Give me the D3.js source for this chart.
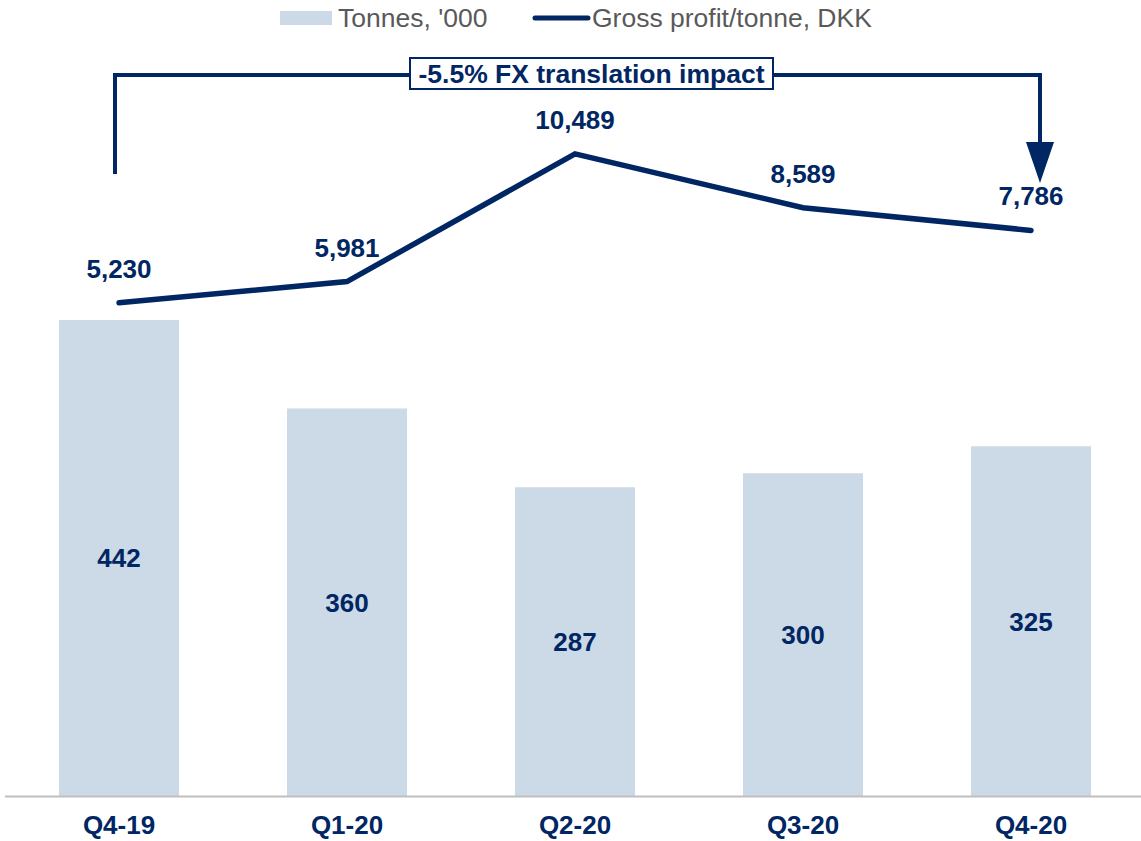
<!DOCTYPE html>
<html>
<head>
<meta charset="utf-8">
<script src="https://cdn.jsdelivr.net/npm/d3@7"></script>
<style>
  body { margin: 0; background: #fff; }
  text { font-family: "Liberation Sans", Arial, sans-serif; }
</style>
</head>
<body>
<div id="chart"></div>
<script>
// chart data
var quarters = ["Q4-19", "Q1-20", "Q2-20", "Q3-20", "Q4-20"];
var tonnes = [442, 360, 287, 300, 325];
var grossProfit = [5230, 5981, 10489, 8589, 7786];
var fxLabel = "-5.5% FX translation impact";

var svgWidth = 1141;
var svgHeight = 841;
var navy = "#002663";
var barColor = "#ccd9e6";

var svg = d3.select("#chart")
  .append("svg")
  .attr("width", svgWidth)
  .attr("height", svgHeight);

// x: one band per quarter
var xScale = d3.scaleBand()
  .domain(quarters)
  .range([5, 1145])
  .paddingInner(108 / 228)
  .paddingOuter(54 / 228);

// bars on their own axis
var yBar = d3.scaleLinear()
  .domain([0, 500])
  .range([797, 797 - 500 * 1.0792]);

// line on a secondary axis
var yLine = d3.scaleLinear()
  .domain([0, 12000])
  .range([451, 451 - 12000 * 0.02833]);

var data = quarters.map(function(q, i) {
  return { q: q, t: tonnes[i], gp: grossProfit[i] };
});

// bars
svg.selectAll("rect.bar")
  .data(data)
  .enter()
  .append("rect")
  .attr("class", "bar")
  .attr("x", d => xScale(d.q))
  .attr("y", d => yBar(d.t))
  .attr("width", xScale.bandwidth())
  .attr("height", d => yBar(0) - yBar(d.t))
  .attr("fill", barColor);

// bar labels
svg.selectAll("text.barlabel")
  .data(data)
  .enter()
  .append("text")
  .attr("class", "barlabel")
  .attr("x", d => xScale(d.q) + xScale.bandwidth() / 2)
  .attr("y", d => (yBar(d.t) + yBar(0)) / 2 + 9)
  .attr("text-anchor", "middle")
  .style("font-size", "26px")
  .style("font-weight", "bold")
  .attr("fill", navy)
  .text(d => d.t);

// x axis
var xAxis = svg.append("g")
  .attr("transform", "translate(0, 797)")
  .call(d3.axisBottom(xScale).tickSize(0).tickPadding(0));
xAxis.select(".domain").remove();
xAxis.append("line")
  .attr("x1", 5).attr("x2", 1141)
  .attr("y1", -0.5).attr("y2", -0.5)
  .attr("stroke", "#bfbfbf")
  .attr("stroke-width", 2);
xAxis.selectAll(".tick text")
  .attr("dy", null)
  .attr("y", 37)
  .style("font-size", "26px")
  .style("font-weight", "bold")
  .style("font-family", "'Liberation Sans', Arial, sans-serif")
  .attr("fill", navy);

// gross profit line
var line = d3.line()
  .x(d => xScale(d.q) + xScale.bandwidth() / 2)
  .y(d => yLine(d.gp));

svg.append("path")
  .datum(data)
  .attr("d", line)
  .attr("fill", "none")
  .attr("stroke", navy)
  .attr("stroke-width", 5.5)
  .attr("stroke-linecap", "round")
  .attr("stroke-linejoin", "miter");

svg.selectAll("text.linelabel")
  .data(data)
  .enter()
  .append("text")
  .attr("class", "linelabel")
  .attr("x", d => xScale(d.q) + xScale.bandwidth() / 2)
  .attr("y", d => yLine(d.gp) - 25)
  .attr("text-anchor", "middle")
  .style("font-size", "26px")
  .style("font-weight", "bold")
  .attr("fill", navy)
  .text(d => d3.format(",")(d.gp));

// FX bracket annotation
var xFirst = xScale(quarters[0]) + xScale.bandwidth() / 2 - 4;
var xLast = xScale(quarters[4]) + xScale.bandwidth() / 2 + 9;
svg.append("path")
  .attr("d", "M" + xFirst + ",174 V75 H" + xLast + " V145")
  .attr("fill", "none")
  .attr("stroke", navy)
  .attr("stroke-width", 4);
svg.append("path")
  .attr("d", "M" + (xLast - 14) + ",142 L" + (xLast + 14) + ",142 L" + xLast + ",183 Z")
  .attr("fill", navy);

svg.append("rect")
  .attr("x", 410)
  .attr("y", 58)
  .attr("width", 363)
  .attr("height", 31)
  .attr("fill", "#fff")
  .attr("stroke", navy)
  .attr("stroke-width", 2);
svg.append("text")
  .attr("x", 591.5)
  .attr("y", 83)
  .attr("text-anchor", "middle")
  .style("font-size", "26.5px")
  .style("font-weight", "bold")
  .attr("fill", navy)
  .text(fxLabel);

// legend
var legend = svg.append("g");
legend.append("rect")
  .attr("x", 280).attr("y", 11)
  .attr("width", 52).attr("height", 14)
  .attr("fill", barColor);
legend.append("text")
  .attr("x", 338).attr("y", 27)
  .style("font-size", "26.5px")
  .attr("fill", "#595959")
  .text("Tonnes, '000");
legend.append("line")
  .attr("x1", 535).attr("x2", 588)
  .attr("y1", 18).attr("y2", 18)
  .attr("stroke", navy)
  .attr("stroke-width", 5)
  .attr("stroke-linecap", "round");
legend.append("text")
  .attr("x", 592).attr("y", 27)
  .style("font-size", "26.5px")
  .attr("fill", "#595959")
  .text("Gross profit/tonne, DKK");
</script>
</body>
</html>
